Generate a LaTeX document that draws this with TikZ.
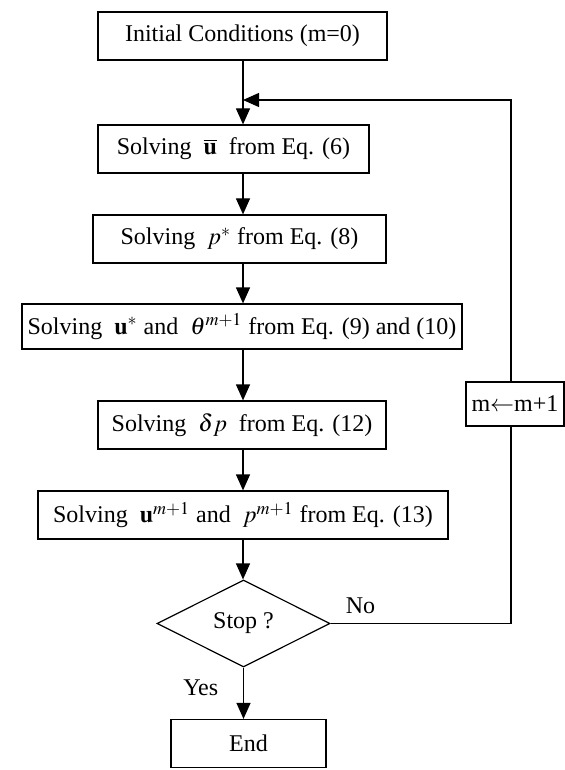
\documentclass[tikz,border=0pt]{standalone}
\usepackage{mathptmx}
\usepackage{fontspec}
\setmainfont{Liberation Serif}
\usepackage{tikz}
\usetikzlibrary{arrows.meta}
\usetikzlibrary{shapes.geometric}

\begin{document}
\begin{tikzpicture}[x=0.5pt,y=-0.5pt,
	box/.style={draw=black, line width=0.6pt, inner sep=0pt, minimum height=24pt, font=\fontsize{12}{14}\selectfont},
	decision/.style={draw=black, line width=0.6pt, diamond, aspect=2, inner sep=0pt, minimum width=86.5pt, minimum height=43.5pt, font=\fontsize{12}{14}\selectfont},
	flow/.style={line width=0.6pt},
	arr/.style={line width=0.6pt, -{Triangle[length=8pt,width=7pt]}},
	yesno/.style={font=\fontsize{12}{14}\selectfont}]

	%Frame
	\useasboundingbox (0,0) rectangle (565,770);
	\coordinate (spine) at (243,0);
	\coordinate (back) at (511,100);

	%Steps
	\node[box, minimum width=144.5pt] (init) at (242.5,36) {Initial Conditions (m=0)};
	\node[box, minimum width=135.5pt] (ubar) at (233.5,149) {Solving\enspace $\overline{\mathbf{u}}$\enspace from Eq. (6)};
	\node[box, minimum width=146.5pt] (pstar) at (239.5,239) {Solving\enspace $p^{*}$ from Eq. (8)};
	\node[box, minimum width=220pt, minimum height=22.5pt] (ustar) at (242,326.5) {Solving\enspace $\mathbf{u}^{*}$ and\enspace $\theta^{m+1}$ from Eq. (9) and (10)};
	\node[box, minimum width=144pt] (dp) at (242,425) {Solving\enspace $\delta p$\enspace from Eq. (12)};
	\node[box, minimum width=205pt] (unew) at (243,515) {Solving\enspace $\mathbf{u}^{m+1}$ and\enspace $p^{m+1}$ from Eq. (13)};

	%Check
	\node[decision] (stop) at (243.5,623.5) {Stop ?};
	\node[box, minimum width=77.5pt] (end) at (248.5,743.5) {End};

	%Counter
	\node[box, minimum width=49pt, minimum height=22pt] (mbox) at (515,404) {m$\leftarrow$m+1};

	%Arrows
	\draw[arr] (init.south -| spine) -- (ubar.north -| spine);
	\draw[arr] (ubar.south -| spine) -- (pstar.north -| spine);
	\draw[arr] (pstar.south -| spine) -- (ustar.north -| spine);
	\draw[arr] (ustar.south -| spine) -- (dp.north -| spine);
	\draw[arr] (dp.south -| spine) -- (unew.north -| spine);
	\draw[arr] (unew.south -| spine) -- (stop.north -| spine);
	\draw[arr] (stop.south) -- node[yesno, pos=0.4, left, xshift=-9pt] {Yes} (stop.south |- end.north);

	%Loop
	\draw[flow] (stop.east) -- node[yesno, pos=0, above right, xshift=4pt, yshift=1.5pt] {No} (stop.east -| back) -- (mbox.south -| back);
	\draw[arr] (mbox.north -| back) -- (back) -- (back -| spine);

\end{tikzpicture}
\end{document}
